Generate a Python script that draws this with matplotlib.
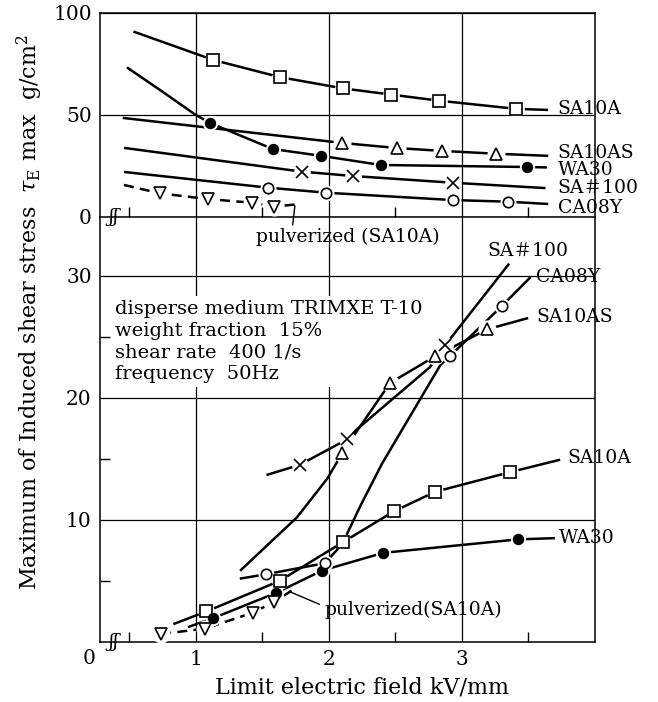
import matplotlib.pyplot as plt

plt.rcParams['font.family'] = ['DejaVu Serif', 'Noto Sans CJK JP', 'DejaVu Sans']
plt.rcParams['mathtext.fontset'] = 'dejavuserif'

# upper panel: tau_E max (g/cm2) vs limit field (kV/mm)
# *_m = indices of the points that carry a symbol
sa10a_t_x = [0.54, 1.13, 1.63, 2.11, 2.47, 2.83, 3.41, 3.64]
sa10a_t_y = [90.7, 77.0, 68.6, 63.0, 60.0, 57.0, 53.0, 52.5]
sa10a_t_m = [1, 2, 3, 4, 5, 6]
sa10as_t_x = [0.46, 2.10, 2.51, 2.85, 3.26, 3.64]
sa10as_t_y = [48.5, 36.3, 33.8, 32.4, 31.0, 30.0]
sa10as_t_m = [1, 2, 3, 4]
wa30_t_x = [0.49, 0.75, 1.0, 1.11, 1.58, 1.94, 2.39, 3.49, 3.63]
wa30_t_y = [73.0, 61.4, 50.0, 46.0, 33.3, 30.0, 25.5, 24.5, 24.3]
wa30_t_m = [3, 4, 5, 6, 7]
sa100_t_x = [0.47, 1.80, 2.18, 2.93, 3.62]
sa100_t_y = [33.8, 22.2, 20.1, 16.8, 14.2]
sa100_t_m = [1, 2, 3]
ca08y_t_x = [0.47, 1.54, 1.98, 2.93, 3.35, 3.64]
ca08y_t_y = [22.0, 14.4, 11.9, 8.3, 7.5, 6.4]
ca08y_t_m = [1, 2, 3, 4]
pulv_t_x = [0.46, 0.73, 1.09, 1.42, 1.59, 1.76]
pulv_t_y = [15.7, 11.6, 8.8, 7.0, 5.1, 6.2]
pulv_t_m = [1, 2, 3, 4]

# lower panel: maximum of induced shear stress vs limit field
sa10a_b_x = [0.84, 1.08, 1.63, 2.11, 2.49, 2.80, 3.36, 3.73]
sa10a_b_y = [1.5, 2.5, 5.0, 8.2, 10.7, 12.3, 13.9, 14.9]
sa10a_b_m = [1, 2, 3, 4, 5, 6]
wa30_b_x = [0.95, 1.13, 1.60, 1.95, 2.41, 3.42, 3.69]
wa30_b_y = [1.25, 1.95, 4.0, 5.85, 7.3, 8.4, 8.5]
wa30_b_m = [1, 2, 3, 4, 5]
pulv_b_x = [0.74, 1.07, 1.43, 1.59, 1.72]
pulv_b_y = [0.65, 1.1, 2.4, 3.3, 4.2]
pulv_b_m = [0, 1, 2, 3]
ca08y_b_x = [1.34, 1.53, 1.97, 2.10, 2.24, 2.40, 2.84, 2.91, 3.30, 3.51]
ca08y_b_y = [5.2, 5.55, 6.45, 8.0, 11.2, 14.6, 22.7, 23.4, 27.5, 29.8]
ca08y_b_m = [1, 2, 7, 8]
sa10as_b_x = [1.34, 1.76, 1.99, 2.06, 2.10, 2.46, 2.80, 3.19, 3.49]
sa10as_b_y = [5.9, 10.2, 13.4, 14.7, 15.5, 21.2, 23.4, 25.6, 26.5]
sa10as_b_m = [4, 5, 6, 7]
sa100_b_x = [1.54, 1.78, 2.14, 2.21, 2.76, 2.875, 3.35]
sa100_b_y = [13.7, 14.5, 16.6, 17.4, 22.5, 24.3, 30.9]
sa100_b_m = [1, 2, 5]

conditions = ("disperse medium TRIMXE T-10\nweight fraction  15%\n"
              "shear rate  400 1/s\nfrequency  50Hz")

FS = 13.5


def draw(ax, x, y, marks, marker, ms=8, filled=False, ls='-'):
    ax.plot(x, y, color='k', lw=1.8, ls=ls, zorder=3)
    mx = [x[i] for i in marks]
    my = [y[i] for i in marks]
    # white halo gives the small gap where the line meets a symbol
    ax.plot(mx, my, ls='none', marker='o', ms=ms + 3, mfc='white',
            mec='white', zorder=4)
    ax.plot(mx, my, ls='none', marker=marker, ms=ms, mew=1.2,
            mfc='k' if filled else 'white', mec='k', zorder=5)


fig = plt.figure(figsize=(6.58, 7.02), dpi=100)
ax_b = fig.add_axes([0.152, 0.0855, 0.752, 0.6054])
ax_t = fig.add_axes([0.152, 0.6909, 0.752, 0.2906])

for ax in (ax_t, ax_b):
    ax.set_xlim(0.28, 4.0)
    ax.set_axisbelow(True)
    ax.set_xticks([1, 2, 3])
    ax.set_xticks([0.5, 1.5, 2.5, 3.5], minor=True)
    ax.grid(True, which='major', color='k', lw=0.9)
    ax.tick_params(which='major', length=0, labelsize=14.5, pad=6)
    ax.tick_params(which='minor', direction='in', length=7, width=1.0,
                   left=True, bottom=True)
    for s in ax.spines.values():
        s.set_linewidth(1.1)

ax_t.set_ylim(0, 100)
ax_t.set_yticks([0, 50, 100])
ax_t.set_yticks([], minor=True)
ax_t.set_xticklabels([])

ax_b.set_ylim(0, 34.8)
ax_b.set_yticks([10, 20, 30])
ax_b.set_yticks([5, 15, 25], minor=True)
ax_b.spines['top'].set_visible(False)

# upper panel curves
draw(ax_t, sa10a_t_x, sa10a_t_y, sa10a_t_m, 's', ms=8)
draw(ax_t, sa10as_t_x, sa10as_t_y, sa10as_t_m, '^', ms=9)
draw(ax_t, wa30_t_x, wa30_t_y, wa30_t_m, 'o', ms=7, filled=True)
draw(ax_t, sa100_t_x, sa100_t_y, sa100_t_m, 'x', ms=8)
draw(ax_t, ca08y_t_x, ca08y_t_y, ca08y_t_m, 'o', ms=7.5)
draw(ax_t, pulv_t_x, pulv_t_y, pulv_t_m, 'v', ms=9, ls=(0, (4, 2.5)))

for name, yy in [('SA10A', 53), ('SA10AS', 31.4), ('WA30', 23),
                 ('SA#100', 14.2), ('CA08Y', 4.4)]:
    ax_t.text(3.72, yy, name.replace('#', '\uff03'), fontsize=FS,
              va='center', ha='left')

ax_t.annotate('pulverized (SA10A)', xy=(1.745, 5.5), xytext=(2.14, -9.8),
              textcoords='data', ha='center', va='center', fontsize=FS,
              annotation_clip=False,
              arrowprops=dict(arrowstyle='-', color='k', lw=1.0,
                              relpos=(0.2, 1.0), shrinkA=0, shrinkB=0))

# lower panel curves
draw(ax_b, sa10a_b_x, sa10a_b_y, sa10a_b_m, 's', ms=8)
draw(ax_b, wa30_b_x, wa30_b_y, wa30_b_m, 'o', ms=7, filled=True)
draw(ax_b, pulv_b_x, pulv_b_y, pulv_b_m, 'v', ms=9, ls=(0, (4, 2.5)))
draw(ax_b, ca08y_b_x, ca08y_b_y, ca08y_b_m, 'o', ms=7.5)
draw(ax_b, sa10as_b_x, sa10as_b_y, sa10as_b_m, '^', ms=9)
draw(ax_b, sa100_b_x, sa100_b_y, sa100_b_m, 'x', ms=8)

ax_b.text(3.19, 32.0, 'SA\uff03100', fontsize=FS, va='center')
ax_b.text(3.56, 29.9, 'CA08Y', fontsize=FS, va='center')
ax_b.text(3.56, 26.6, 'SA10AS', fontsize=FS, va='center')
ax_b.text(3.79, 15.1, 'SA10A', fontsize=FS, va='center')
ax_b.text(3.73, 8.5, 'WA30', fontsize=FS, va='center')
ax_b.annotate('pulverized(SA10A)', xy=(1.71, 4.1), xytext=(1.97, 2.6),
              textcoords='data', ha='left', va='center', fontsize=FS,
              arrowprops=dict(arrowstyle='-', color='k', lw=1.0,
                              relpos=(0.0, 0.7), shrinkA=2, shrinkB=0))

# white box only hides the grid, the curves stay on top of it
ax_b.text(0.39, 28.0, conditions, fontsize=14, va='top', ha='left',
          linespacing=1.25, zorder=2,
          bbox=dict(facecolor='white', edgecolor='none', pad=3))

# axis-break marks and the shared "0"
for ax in (ax_t, ax_b):
    ax.text(0.028, 0.0, '\u0283\u0283', transform=ax.transAxes,
            fontsize=FS, ha='center', va='center', style='italic')
ax_b.text(-0.022, -0.04, '0', transform=ax_b.transAxes, fontsize=14.5,
          ha='center', va='center')

fig.text(0.55, 0.02, 'Limit electric field kV/mm', fontsize=16,
         ha='center', va='center')
fig.text(0.045, 0.555,
         r'Maximum of Induced shear stress  $\tau_{\rm E}$ max  g/cm$^2$',
         fontsize=16, rotation=90, ha='center', va='center')

fig.savefig('out.png', dpi=100)
